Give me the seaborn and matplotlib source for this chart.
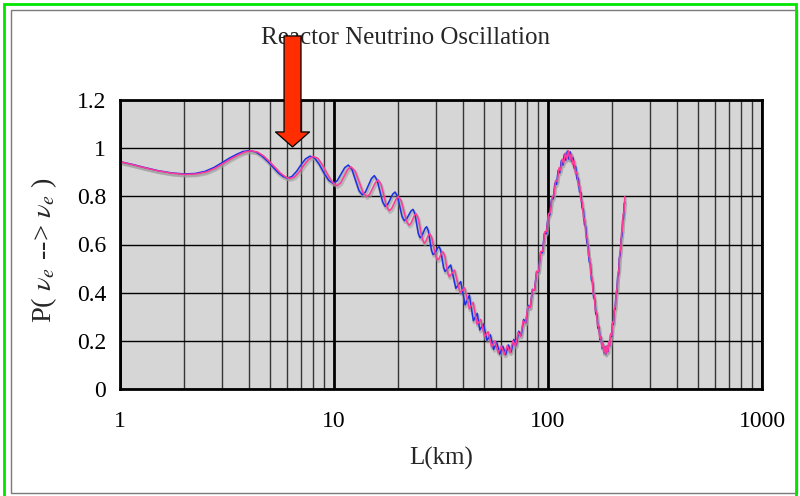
import matplotlib
matplotlib.use("Agg")
import matplotlib.pyplot as plt
import matplotlib.transforms as mtransforms
from matplotlib.patches import Rectangle
from matplotlib.ticker import LogLocator, NullFormatter
import pandas as pd
import seaborn as sns

# ---------------- data ----------------
# blue curve, 1 - 47 km
blue_L_slow = [1.0, 1.15, 1.3, 1.5, 1.75, 2.0, 2.25, 2.5, 2.75, 3.0, 3.25, 3.5, 3.75, 4.0,
               4.3, 4.6, 4.9, 5.2, 5.5, 5.8, 6.05, 6.35, 6.7, 7.0, 7.35, 7.72, 8.1, 8.5,
               9.0, 9.45, 9.92, 10.35, 11.22, 11.66, 12.13, 13.08, 13.55, 14.02, 14.96,
               15.43, 15.91, 16.87, 17.35, 17.83, 18.8, 19.28, 19.79, 20.8, 21.3, 21.83,
               22.88, 23.4, 23.86, 24.79, 25.25, 25.71, 26.64, 27.1, 27.59, 28.56, 29.05,
               29.54, 30.51, 31.0, 31.51, 32.54, 33.05, 35.1, 37.1, 39.1, 41.0, 42.9,
               44.8, 46.7]
blue_P_slow = [0.944, 0.932, 0.920, 0.907, 0.897, 0.893, 0.895, 0.904, 0.920, 0.940, 0.959,
               0.974, 0.986, 0.990, 0.985, 0.968, 0.945, 0.920, 0.897, 0.882, 0.876, 0.882,
               0.905, 0.930, 0.955, 0.967, 0.960, 0.935, 0.895, 0.866, 0.854, 0.865, 0.919,
               0.930, 0.912, 0.824, 0.806, 0.818, 0.874, 0.886, 0.867, 0.777, 0.758, 0.767,
               0.809, 0.818, 0.801, 0.716, 0.699, 0.706, 0.739, 0.746, 0.729, 0.645, 0.628,
               0.635, 0.667, 0.674, 0.657, 0.575, 0.558, 0.563, 0.586, 0.591, 0.576, 0.503,
               0.488, 0.515, 0.418, 0.446, 0.349, 0.390, 0.283, 0.314]
# blue curve, 48 - 229 km (fast wiggles)
blue_L_fast = [48.0, 49.9, 51.85, 53.8, 55.7, 57.6, 59.55, 61.5, 63.4, 65.3, 67.25, 69.2, 71.1,
               73.0, 74.95, 76.9, 78.8, 80.7, 82.65, 84.6, 86.5, 88.4, 90.35, 92.3, 94.2, 96.1,
               98.05, 100.0, 101.9, 103.8, 105.75, 107.7, 109.6, 111.5, 113.45, 115.4, 117.3,
               119.2, 121.15, 123.1, 125.0, 126.9, 128.85, 130.8, 132.7, 134.6, 136.55, 138.5,
               140.4, 142.3, 144.25, 146.2, 148.1, 150.0, 151.95, 153.9, 155.8, 157.7, 159.65,
               161.6, 163.5, 165.4, 167.35, 169.3, 171.2, 173.1, 175.05, 177.0, 178.9, 180.8,
               182.75, 184.7, 186.6, 188.5, 190.45, 192.4, 194.3, 196.2, 198.15, 200.1, 202.0,
               203.9, 205.85, 207.8, 209.7, 211.6, 213.55, 215.5, 217.4, 219.3, 221.25, 223.2,
               225.1, 227.0, 228.9]
blue_P_fast = [0.245, 0.270, 0.202, 0.225, 0.164, 0.193, 0.145, 0.178, 0.143, 0.183, 0.154,
               0.206, 0.182, 0.240, 0.223, 0.289, 0.276, 0.347, 0.339, 0.414, 0.410, 0.487,
               0.487, 0.567, 0.566, 0.645, 0.645, 0.714, 0.723, 0.787, 0.790, 0.855, 0.850,
               0.908, 0.898, 0.948, 0.930, 0.975, 0.950, 0.988, 0.955, 0.985, 0.945, 0.962,
               0.915, 0.925, 0.872, 0.876, 0.818, 0.817, 0.752, 0.747, 0.682, 0.675, 0.607,
               0.597, 0.529, 0.521, 0.452, 0.444, 0.378, 0.374, 0.310, 0.310, 0.252, 0.258,
               0.205, 0.216, 0.170, 0.189, 0.150, 0.176, 0.145, 0.178, 0.155, 0.196, 0.180,
               0.227, 0.218, 0.272, 0.269, 0.328, 0.331, 0.395, 0.400, 0.467, 0.476, 0.546,
               0.555, 0.624, 0.633, 0.701, 0.707, 0.771, 0.774]

# pink curve, 1 - 47 km
pink_L_slow = [1.0, 1.15, 1.3, 1.5, 1.75, 2.02, 2.28, 2.55, 2.8, 3.06, 3.32, 3.57, 3.83,
               4.08, 4.4, 4.7, 5.0, 5.32, 5.63, 5.95, 6.22, 6.55, 6.9, 7.22, 7.6, 7.98, 8.4,
               8.8, 9.3, 9.8, 10.33, 10.75, 11.58, 12.0, 12.55, 13.65, 14.2, 14.68, 15.63,
               16.1, 16.6, 17.6, 18.1, 18.58, 19.53, 20.0, 20.6, 21.8, 22.4, 22.85, 23.75,
               24.2, 24.75, 25.85, 26.4, 26.8, 27.6, 28.0, 28.63, 29.88, 30.5, 30.95, 31.85,
               32.3, 32.88, 34.03, 34.6, 36.6, 38.8, 40.8, 42.9, 44.7, 46.6]
pink_P_slow = [0.944, 0.931, 0.919, 0.906, 0.896, 0.891, 0.893, 0.902, 0.918, 0.938, 0.957,
               0.972, 0.984, 0.989, 0.984, 0.967, 0.944, 0.919, 0.896, 0.880, 0.874, 0.881,
               0.903, 0.928, 0.953, 0.966, 0.958, 0.932, 0.893, 0.860, 0.844, 0.856, 0.911,
               0.923, 0.905, 0.817, 0.799, 0.809, 0.858, 0.868, 0.849, 0.759, 0.740, 0.749,
               0.790, 0.799, 0.782, 0.697, 0.680, 0.687, 0.721, 0.728, 0.710, 0.623, 0.605,
               0.611, 0.639, 0.645, 0.629, 0.552, 0.536, 0.541, 0.565, 0.570, 0.555, 0.481,
               0.466, 0.494, 0.400, 0.420, 0.333, 0.360, 0.268]
# pink curve, 48 - 229 km (fast wiggles)
pink_L_fast = [48.5, 50.5, 52.5, 54.5, 56.5, 58.5, 60.5, 62.5, 64.5, 66.5, 68.5, 70.5, 72.5,
               74.5, 76.5, 78.5, 80.5, 82.5, 84.5, 86.5, 88.5, 90.5, 92.5, 94.5, 96.5, 98.5,
               100.5, 102.5, 104.5, 106.5, 108.5, 110.5, 112.5, 114.5, 116.5, 118.5, 120.5,
               122.5, 124.5, 126.5, 128.5, 130.5, 132.5, 134.5, 136.5, 138.5, 140.5, 142.5,
               144.5, 146.5, 148.5, 150.5, 152.5, 154.5, 156.5, 158.5, 160.5, 162.5, 164.5,
               166.5, 168.5, 170.5, 172.5, 174.5, 176.5, 178.5, 180.5, 182.5, 184.5, 186.5,
               188.5, 190.5, 192.5, 194.5, 196.5, 198.5, 200.5, 202.5, 204.5, 206.5, 208.5,
               210.5, 212.5, 214.5, 216.5, 218.5, 220.5, 222.5, 224.5, 226.5, 228.5]
pink_P_fast = [0.289, 0.218, 0.238, 0.175, 0.200, 0.150, 0.179, 0.142, 0.181, 0.150, 0.201,
               0.177, 0.235, 0.218, 0.283, 0.272, 0.343, 0.337, 0.413, 0.410, 0.489, 0.489,
               0.571, 0.572, 0.653, 0.653, 0.727, 0.734, 0.799, 0.802, 0.866, 0.862, 0.918,
               0.908, 0.955, 0.940, 0.980, 0.955, 0.990, 0.952, 0.978, 0.932, 0.948, 0.895,
               0.902, 0.845, 0.846, 0.784, 0.779, 0.712, 0.704, 0.635, 0.626, 0.555, 0.545,
               0.475, 0.465, 0.397, 0.390, 0.325, 0.322, 0.262, 0.265, 0.211, 0.220, 0.174,
               0.190, 0.151, 0.176, 0.145, 0.178, 0.155, 0.196, 0.182, 0.230, 0.223, 0.278,
               0.277, 0.338, 0.342, 0.408, 0.415, 0.484, 0.494, 0.566, 0.577, 0.648, 0.658,
               0.727, 0.734, 0.799]

x_ticks = [1, 10, 100, 1000]
x_tick_labels = ["1", "10", "100", "1000"]
y_ticks = [0, 0.2, 0.4, 0.6, 0.8, 1.0, 1.2]
y_tick_labels = ["0", "0.2", "0.4", "0.6", "0.8", "1", "1.2"]
title = "Reactor Neutrino Oscillation"
x_label = "L(km)"
y_label = r"P( $\nu_e$ --> $\nu_e$ )"
arrow_L = 6.4  # where the arrow points

# ---------------- style ----------------
sns.set_style("white")
plt.rcParams["font.family"] = ["Liberation Serif", "DejaVu Serif"]
plt.rcParams["mathtext.fontset"] = "stix"

W, H = 800, 496
fig = plt.figure(figsize=(W / 100, H / 100), dpi=100)
fig.patch.set_facecolor("white")

# plot area in pixels: left 120, right 762, top 100, bottom 389
ax = fig.add_axes([120 / W, 1 - 389 / H, (762 - 120) / W, (389 - 100) / H])
ax.set_facecolor("#d6d6d6")
ax.set_xscale("log")

blue_df = pd.DataFrame({"L": blue_L_slow + blue_L_fast, "P": blue_P_slow + blue_P_fast})
pink_df = pd.DataFrame({"L": pink_L_slow + pink_L_fast, "P": pink_P_slow + pink_P_fast})

shadow_off = mtransforms.ScaledTranslation(0.8 / 100, -1.8 / 100, fig.dpi_scale_trans)
for df in (blue_df, pink_df):
    sns.lineplot(data=df, x="L", y="P", sort=False, estimator=None, ax=ax,
                 color="#9c9c9c", lw=2.2, alpha=0.55)
    ax.lines[-1].set_transform(ax.transData + shadow_off)

sns.lineplot(data=blue_df, x="L", y="P", sort=False, estimator=None, ax=ax,
             color="#1a30e8", lw=1.1)
sns.lineplot(data=pink_df, x="L", y="P", sort=False, estimator=None, ax=ax,
             color="#ff3a98", lw=1.1)
for ln in ax.lines:
    ln.set_solid_joinstyle("round")

ax.set_xlim(1, 1000)
ax.set_ylim(0, 1.2)
ax.set_xticks(x_ticks)
ax.set_xticklabels(x_tick_labels)
ax.xaxis.set_minor_locator(LogLocator(base=10, subs=range(2, 10)))
ax.xaxis.set_minor_formatter(NullFormatter())
ax.set_yticks(y_ticks)
ax.set_yticklabels(y_tick_labels)

ax.grid(which="major", axis="y", color="black", lw=1.0)
ax.grid(which="minor", axis="x", color="#353535", lw=1.0)
ax.grid(which="major", axis="x", color="black", lw=2.0)
ax.set_axisbelow(True)
for sp in ax.spines.values():
    sp.set_visible(True)
    sp.set_color("black")
    sp.set_linewidth(2.0)

ax.tick_params(axis="both", which="both", length=0, labelsize=17, colors="black")
ax.tick_params(axis="y", pad=10)
ax.tick_params(axis="x", pad=16)
ax.set_xlabel("")
ax.set_ylabel("")

# title (drawn below the arrow)
ax.text(406 / W, 1 - 38 / H, title, transform=fig.transFigure, ha="center", va="center",
        fontsize=18, zorder=5, clip_on=False)
fig.text(44 / W, 1 - 250 / H, y_label, rotation=90, ha="center", va="center", fontsize=20.5)
fig.text(441 / W, 1 - 458 / H, x_label, ha="center", va="center", fontsize=18)

# red arrow
ax.annotate("", xy=(arrow_L, 1.005), xytext=(arrow_L, 1.466), xycoords="data",
            textcoords="data", annotation_clip=False, zorder=10,
            arrowprops=dict(arrowstyle="simple,head_length=1.08,head_width=2.45,tail_width=1.22",
                            fc="#ff2d00", ec="black", lw=0.9, shrinkA=0, shrinkB=0,
                            mutation_scale=10))

# borders of the chart area
px = fig.dpi_scale_trans
fig.patches.append(Rectangle((11 / 100, 3 / 100), (797 - 11) / 100, (486 - 3) / 100,
                             transform=px, fill=False, ec="#7a7a7a", lw=1.0))
fig.patches.append(Rectangle((4 / 100, -5 / 100), (796 - 4) / 100, (492 + 5) / 100,
                             transform=px, fill=False, ec="#00e600", lw=2.0))

fig.savefig("out.png", dpi=100)
